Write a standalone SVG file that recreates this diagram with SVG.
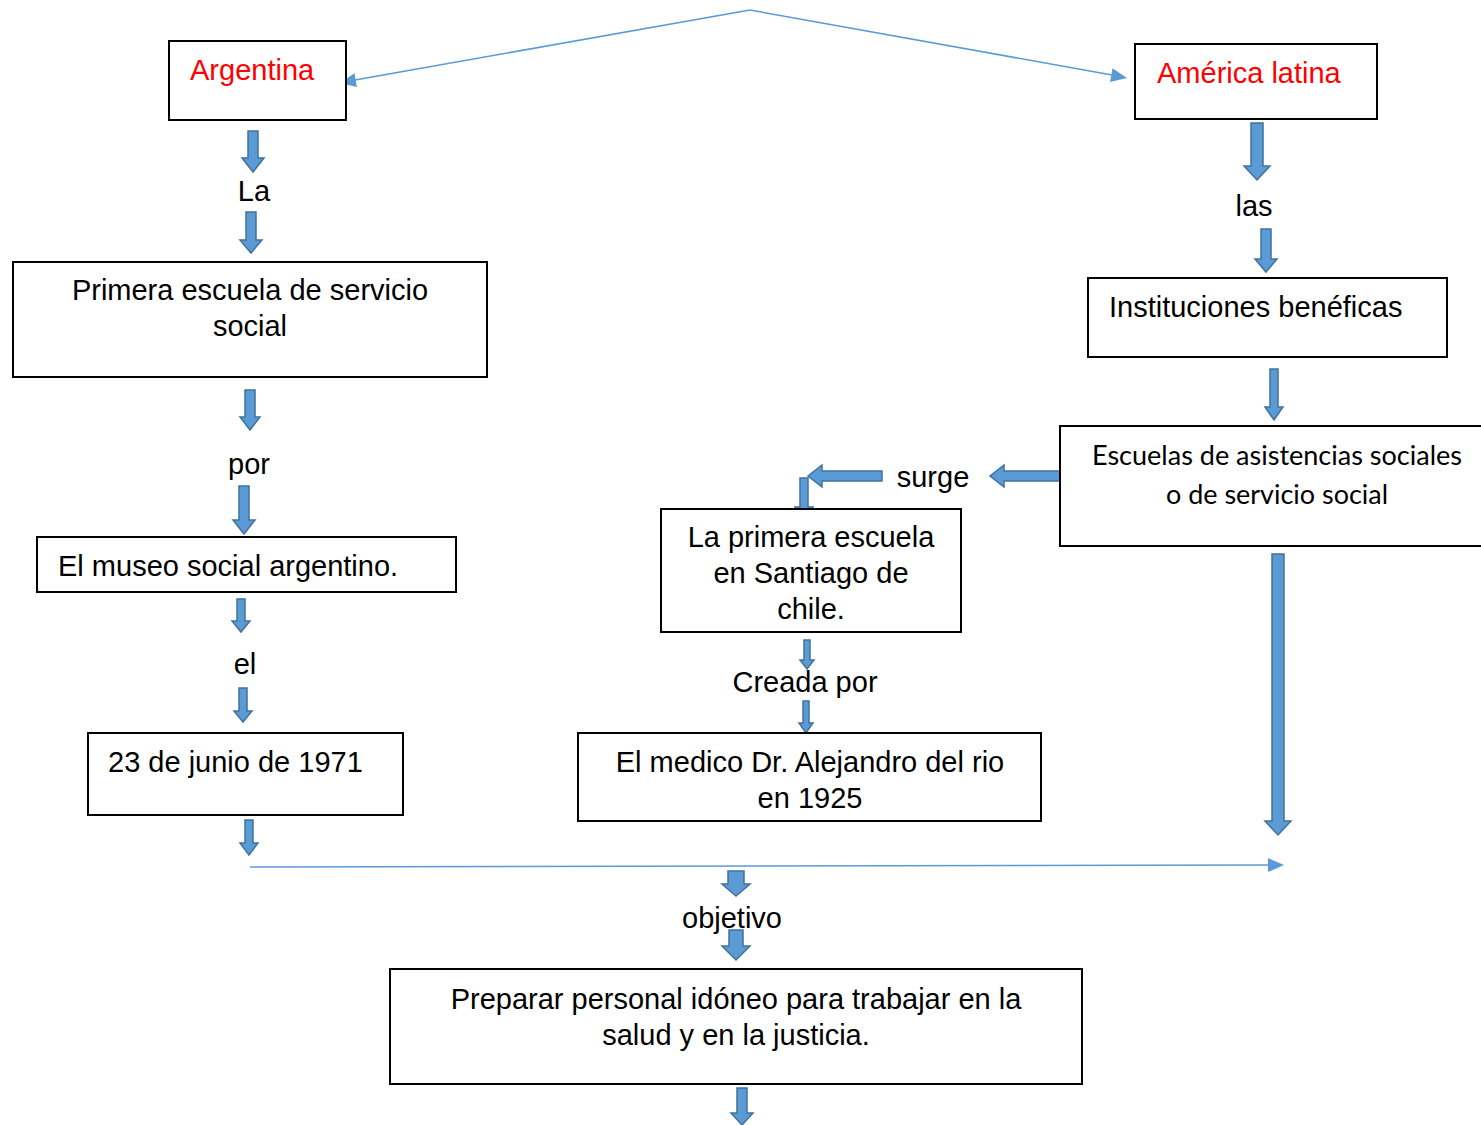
<svg xmlns="http://www.w3.org/2000/svg" width="1481" height="1125" viewBox="0 0 1481 1125">
<style>
.box{fill:#fff;stroke:#000;stroke-width:2}
.t{font-family:"Liberation Sans",Arial,sans-serif;font-size:29px;fill:#000}
.red{fill:#ff0000}
.c{text-anchor:middle}
.cal{font-family:Lato,"Open Sans",sans-serif;font-size:26px;fill:#000;text-anchor:middle}
.ba{fill:#5b9bd5;stroke:#41719c;stroke-width:1.5}
.thin{stroke:#5b9bd5;stroke-width:1.5;fill:none}
.head{fill:#5b9bd5}
</style>
<rect width="1481" height="1125" fill="#fff"/>
<g id="connectors">
<path class="thin" d="M750,10 L355,80"/>
<polygon class="head" points="340,83 356.9,87.1 354.5,73.3"/>
<path class="thin" d="M750,10 L1112,75"/>
<polygon class="head" points="1127,78 1110.1,82.1 1112.5,68.3"/>
<path class="thin" d="M250,867 L1269,865"/>
<polygon class="head" points="1284,865 1268,858 1268,872"/>
<path class="ba" d="M248,131 H258 V158 H264 L253,172 L242,158 H248 Z"/>
<path class="ba" d="M246,212 H256 V240 H262 L251,253 L240,240 H246 Z"/>
<path class="ba" d="M1251,123 H1263 V166 H1270 L1257,180 L1244,166 H1251 Z"/>
<path class="ba" d="M1261,229 H1271 V259 H1277 L1266,272 L1255,259 H1261 Z"/>
<path class="ba" d="M1270,369 H1278 V407 H1283 L1274,420 L1265,407 H1270 Z"/>
<path class="ba" d="M245,390 H255 V417 H260 L250,430 L240,417 H245 Z"/>
<path class="ba" d="M239,486 H249 V520 H255 L244,534 L233,520 H239 Z"/>
<path class="ba" d="M237,599 H245 V621 H250 L241,632 L232,621 H237 Z"/>
<path class="ba" d="M239,688 H247 V711 H252 L243,722 L234,711 H239 Z"/>
<path class="ba" d="M245,820 H253 V843 H258 L249,855 L240,843 H245 Z"/>
<path class="ba" d="M1064,471 V481 H1004 V487 L990,476 L1004,465 V471 Z"/>
<path class="ba" d="M882,471 V481 H822 V487 L808,476 L822,465 V471 Z"/>
<path class="ba" d="M800,478 H808 V507 H813 L804,519 L795,507 H800 Z"/>
<path class="ba" d="M804,640 H810 V660 H814 L807,669 L800,660 H804 Z"/>
<path class="ba" d="M803,701 H809 V723 H813 L806,733 L799,723 H803 Z"/>
<path class="ba" d="M1272,554 H1284 V821 H1291 L1278,835 L1265,821 H1272 Z"/>
<path class="ba" d="M728,871 H744 V884 H750 L736,896 L722,884 H728 Z"/>
<path class="ba" d="M729,930 H743 V946 H750 L736,960 L722,946 H729 Z"/>
<path class="ba" d="M737,1088 H747 V1113 H753 L742,1125 L731,1113 H737 Z"/>
</g>
<g id="labels">
<text class="t c" x="254" y="201">La</text>
<text class="t c" x="1254" y="216">las</text>
<text class="t c" x="249" y="474">por</text>
<text class="t c" x="245" y="674">el</text>
<text class="t c" x="933" y="487">surge</text>
<text class="t c" x="805" y="692">Creada por</text>
<text class="t c" x="732" y="928">objetivo</text>
</g>
<g id="argentina">
<rect class="box" x="169" y="41" width="177" height="79"/>
<text class="t red" x="190" y="80">Argentina</text>
</g>
<g id="america-latina">
<rect class="box" x="1135" y="44" width="242" height="75"/>
<text class="t red" x="1157" y="83">América latina</text>
</g>
<g id="primera-escuela">
<rect class="box" x="13" y="262" width="474" height="115"/>
<text class="t c" x="250" y="300">Primera escuela de servicio</text>
<text class="t c" x="250" y="336">social</text>
</g>
<g id="museo">
<rect class="box" x="37" y="537" width="419" height="55"/>
<text class="t" x="58" y="576">El museo social argentino.</text>
</g>
<g id="fecha">
<rect class="box" x="88" y="733" width="315" height="82"/>
<text class="t" x="108" y="772">23 de junio de 1971</text>
</g>
<g id="instituciones">
<rect class="box" x="1088" y="278" width="359" height="79"/>
<text class="t" x="1109" y="317">Instituciones benéficas</text>
</g>
<g id="escuelas">
<rect class="box" x="1060" y="426" width="430" height="120"/>
<text class="cal" x="1277" y="465" textLength="370" lengthAdjust="spacingAndGlyphs">Escuelas de asistencias sociales</text>
<text class="cal" x="1277" y="504" textLength="222" lengthAdjust="spacingAndGlyphs">o de servicio social</text>
</g>
<g id="santiago">
<rect class="box" x="661" y="509" width="300" height="123"/>
<text class="t c" x="811" y="547">La primera escuela</text>
<text class="t c" x="811" y="583">en Santiago de</text>
<text class="t c" x="811" y="619">chile.</text>
</g>
<g id="medico">
<rect class="box" x="578" y="733" width="463" height="88"/>
<text class="t c" x="810" y="772">El medico Dr. Alejandro del rio</text>
<text class="t c" x="810" y="808">en 1925</text>
</g>
<g id="preparar">
<rect class="box" x="390" y="969" width="692" height="115"/>
<text class="t c" x="736" y="1009">Preparar personal idóneo para trabajar en la</text>
<text class="t c" x="736" y="1045">salud y en la justicia.</text>
</g>
</svg>
